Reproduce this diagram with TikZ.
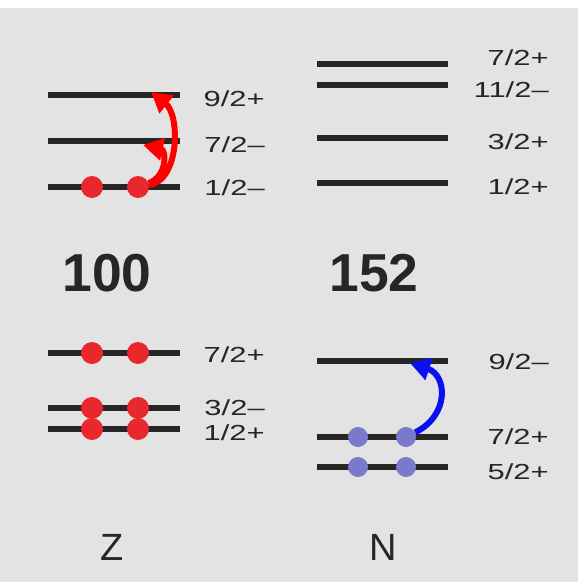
\documentclass[tikz,border=0pt]{standalone}
\usepackage{fontspec}
\setmainfont{Liberation Sans}
\usetikzlibrary{arrows.meta}

\definecolor{bggray}{HTML}{E3E3E3}
\definecolor{zred}{HTML}{E8282C}
\definecolor{nblue}{HTML}{7A7ACC}
\definecolor{jumpblue}{HTML}{0A10F0}
\newcommand{\wide}[1]{\scalebox{1.42}[1]{#1}}

\begin{document}
\begin{tikzpicture}[x=0.25mm, y=-0.25mm,
    level/.style={line width=1.35mm, black!85},
    zdot/.style={circle, fill=zred, inner sep=0pt, minimum size=5.5mm},
    ndot/.style={circle, fill=nblue, inner sep=0pt, minimum size=5mm},
    spin/.style={anchor=east, inner sep=0pt, text=black!85, font=\fontsize{15.5}{16}\selectfont},
    mass/.style={text=black!85, font=\fontsize{38}{40}\selectfont\bfseries},
    axis/.style={text=black!85, font=\fontsize{27}{28}\selectfont},
    jump/.style={line width=1.5mm, -{Triangle[length=5mm, width=5.5mm]}}]

        % 1. 背景
        \fill[white] (0,0) rectangle (578,582);
        \fill[bggray] (0,8) rectangle (578,582);

        % 2. 準位（陽子: 左, 中性子: 右）
        \foreach \y/\ly/\j/\n in {95/99/{9/2+}/zs, 141/145/{7/2–}/zp, 187/188/{1/2–}/zf,
                                  353/355/{7/2+}/zg, 408/408/{3/2–}/zd, 429/433/{1/2+}/zc}
        {
            \draw[level] (48,\y) -- (180,\y);
            \node[spin] (\n) at (265,\ly) {\wide{\j}};
        }
        \foreach \y/\ly/\j/\n in {64/58/{7/2+}/ns, 85/90/{11/2–}/nh, 138/142/{3/2+}/nd, 183/187/{1/2+}/nc,
                                  361/362/{9/2–}/ng, 437/437/{7/2+}/nf, 467/472/{5/2+}/ne}
        {
            \draw[level] (317,\y) -- (448,\y);
            \node[spin] (\n) at (549,\ly) {\wide{\j}};
        }

        % 3. 核子
        \foreach \x/\k in {92/a,138/b}
        {
            \node[zdot] (zu\k) at (\x,187) {};
            \node[zdot] (z7\k) at (\x,353) {};
            \node[zdot] (z3\k) at (\x,408) {};
            \node[zdot] (z1\k) at (\x,429) {};
        }
        \foreach \x/\k in {358/a,406/b}
        {
            \node[ndot] (n7\k) at (\x,437) {};
            \node[ndot] (n5\k) at (\x,467) {};
        }

        % 4. 励起の矢印
        \coordinate (zsend) at (151,92);
        \coordinate (zpend) at (143,145);
        \coordinate (ngend) at (410,363);
        \draw[jump, red] (zub) .. controls (180,180) and (180,115) .. (zsend);
        \draw[jump, red] (zub) .. controls (168,176) and (166,150) .. (zpend);
        \draw[jump, jumpblue] (n7b) .. controls (450,415) and (447,375) .. (ngend);

        % 5. 数と軸ラベル
        \node[mass] (zmass) at (107,273) {100};
        \node[mass] (nmass) at (374,273) {152};
        \node[axis] (zlabel) at (112,547) {Z};
        \node[axis] (nlabel) at (383,547) {N};
    \end{tikzpicture}
\end{document}
